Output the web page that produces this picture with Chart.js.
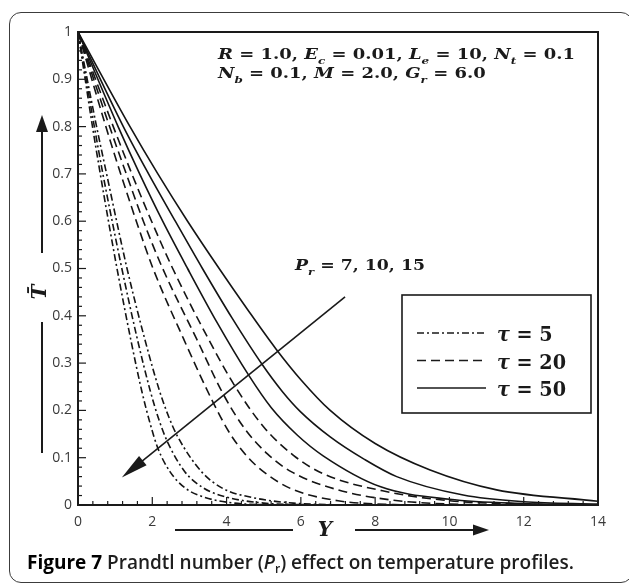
<!DOCTYPE html>
<html><head><meta charset="utf-8">
<script src="https://cdn.jsdelivr.net/npm/chart.js@4.4.1/dist/chart.umd.min.js"></script>
<style>
html,body{margin:0;padding:0;background:#fff;overflow:hidden}
#wrap{position:relative;width:629px;height:584px}
#frame{position:absolute;left:9px;top:12px;width:624px;height:571px;box-sizing:border-box;border:1.5px solid #3c3c3c;border-radius:12px}
#c{position:absolute;left:0;top:0}
#cap{position:absolute;left:27px;top:553px;font-family:"Open Sans",sans-serif;font-size:19px;line-height:18px;font-weight:600;color:#1e1e1e;white-space:nowrap}
#cap b{color:#000;font-weight:700}
#cap .sub{font-size:12px;position:relative;top:4px}
</style></head>
<body><div id="wrap"><div id="frame"></div><canvas id="c" width="629" height="584"></canvas>
<div id="cap"><b>Figure 7</b> Prandtl number (<i>P</i><span class="sub">r</span>) effect on temperature profiles.</div></div>
<script>
// ---------------- data ----------------
const tauLabels = ['5', '20', '50'];
const prValues = ['7', '10', '15'];
const X_LABELS = ['0','2','4','6','8','10','12','14'];
const Y_LABELS = ['0','0.1','0.2','0.3','0.4','0.5','0.6','0.7','0.8','0.9','1'];

// tau = 5 (dash-dot)
const t5_pr7_Y  = [0, 0.50, 0.77, 1.04, 1.32, 1.80, 2.20, 2.45, 2.68, 3.33, 3.90, 4.68, 5.8, 7.0, 8.0];
const t5_pr7_T  = [1, 0.80, 0.70, 0.60, 0.50, 0.35, 0.24, 0.185, 0.145, 0.07, 0.035, 0.016, 0.004, 0.0005, 0];
const t5_pr10_Y = [0, 0.44, 0.67, 0.92, 1.18, 1.60, 1.95, 2.18, 2.40, 2.88, 3.40, 4.04, 5.0, 6.2, 7.0];
const t5_pr10_T = [1, 0.80, 0.70, 0.60, 0.50, 0.35, 0.24, 0.18, 0.135, 0.07, 0.035, 0.016, 0.004, 0.0005, 0];
const t5_pr15_Y = [0, 0.39, 0.60, 0.82, 1.05, 1.42, 1.72, 1.95, 2.15, 2.48, 2.90, 3.42, 4.2, 5.2, 6.0];
const t5_pr15_T = [1, 0.80, 0.70, 0.60, 0.50, 0.35, 0.24, 0.17, 0.12, 0.07, 0.035, 0.016, 0.004, 0.0005, 0];

// tau = 20 (dashed)
const t20_pr7_Y  = [0, 0.95, 1.45, 1.98, 2.55, 3.45, 4.22, 5.0, 5.8, 6.6, 8.2, 10.0, 12.0, 14.0];
const t20_pr7_T  = [1, 0.80, 0.70, 0.60, 0.50, 0.36, 0.252, 0.165, 0.105, 0.066, 0.03, 0.009, 0.002, 0];
const t20_pr10_Y = [0, 0.85, 1.30, 1.76, 2.28, 3.20, 3.92, 4.50, 5.10, 5.75, 7.0, 8.5, 10.0, 11.5];
const t20_pr10_T = [1, 0.80, 0.70, 0.60, 0.50, 0.35, 0.233, 0.16, 0.108, 0.07, 0.032, 0.01, 0.002, 0];
const t20_pr15_Y = [0, 0.75, 1.15, 1.57, 2.02, 2.85, 3.65, 4.10, 4.55, 5.0, 5.75, 7.0, 8.5, 9.5];
const t20_pr15_T = [1, 0.80, 0.70, 0.60, 0.50, 0.35, 0.215, 0.15, 0.103, 0.07, 0.034, 0.009, 0.001, 0];

// tau = 50 (solid)
const t50_pr7_Y  = [0, 1.40, 2.15, 2.95, 3.80, 4.55, 5.33, 6.0, 6.79, 8.0, 9.48, 11.27, 14.0];
const t50_pr7_T  = [1, 0.80, 0.70, 0.60, 0.50, 0.415, 0.33, 0.265, 0.20, 0.13, 0.074, 0.032, 0.008];
const t50_pr10_Y = [0, 1.22, 1.90, 2.62, 3.35, 4.15, 4.95, 5.50, 5.98, 6.79, 7.70, 8.58, 10.37, 12.0, 14.0];
const t50_pr10_T = [1, 0.80, 0.70, 0.60, 0.50, 0.395, 0.298, 0.24, 0.198, 0.144, 0.097, 0.06, 0.021, 0.007, 0.002];
const t50_pr15_Y = [0, 1.08, 1.66, 2.28, 2.95, 3.75, 4.59, 5.21, 5.90, 6.60, 8.13, 10.0, 12.0, 14.0];
const t50_pr15_T = [1, 0.80, 0.70, 0.60, 0.50, 0.385, 0.275, 0.205, 0.148, 0.104, 0.039, 0.012, 0.003, 0.0005];

// Pr arrow (data coordinates: tail -> tip)
const prArrowTail = [7.19, 0.44];
const prArrowTip  = [1.18, 0.058];

// ---------------- build ----------------
const pts = (X, T) => X.map((x, i) => ({x, y: T[i]}));
const styles = [
  {dash: [7, 3, 2, 3]},
  {dash: [9, 5]},
  {dash: []}
];
const curveSets = [
  [[t5_pr7_Y, t5_pr7_T], [t5_pr10_Y, t5_pr10_T], [t5_pr15_Y, t5_pr15_T]],
  [[t20_pr7_Y, t20_pr7_T], [t20_pr10_Y, t20_pr10_T], [t20_pr15_Y, t20_pr15_T]],
  [[t50_pr7_Y, t50_pr7_T], [t50_pr10_Y, t50_pr10_T], [t50_pr15_Y, t50_pr15_T]]
];
const datasets = [];
curveSets.forEach((set, g) => set.forEach((c, k) => datasets.push({
  label: 'τ = ' + tauLabels[g] + ', Pr = ' + prValues[k],
  data: pts(c[0], c[1]),
  borderColor: '#141414', borderWidth: 1.6, borderDash: styles[g].dash,
  pointRadius: 0, cubicInterpolationMode: 'monotone', fill: false
})));

const SERIF = '"DejaVu Serif", "Liberation Serif", serif';
function fontFor(r, size) {
  const it = r[1].includes('i'), sub = r[1].includes('s');
  return (it ? 'italic ' : '') + 'bold ' + (sub ? Math.round(size * 0.68) : size) + 'px ' + SERIF;
}
function richWidth(ctx, runs, size) {
  let w = 0; for (const r of runs) { ctx.font = fontFor(r, size); w += ctx.measureText(r[0]).width; } return w;
}
function drawRich(ctx, runs, x, y, size, sx) {
  ctx.save(); ctx.translate(x, y); ctx.scale(sx, 1);
  let cx = 0;
  for (const r of runs) {
    ctx.font = fontFor(r, size);
    const dy = r[1].includes('s') ? size * 0.3 : 0;
    ctx.fillText(r[0], cx, dy); cx += ctx.measureText(r[0]).width;
  }
  ctx.restore();
}
const line1 = [['R','i'],[' = ',''],['1.0, ',''],['E','i'],['c','is'],[' = ',''],['0.01, ',''],['L','i'],['e','is'],[' = ',''],['10, ',''],['N','i'],['t','is'],[' = ',''],['0.1','']];
const line2 = [['N','i'],['b','is'],[' = ',''],['0.1, ',''],['M','i'],[' = ',''],['2.0, ',''],['G','i'],['r','is'],[' = ',''],['6.0','']];
const prLine = [['P','i'],['r','is'],[' = ',''],[prValues.join(', '),'']];

function seg(ctx, x1, y1, x2, y2) { ctx.beginPath(); ctx.moveTo(x1, y1); ctx.lineTo(x2, y2); ctx.stroke(); }
function arrowHead(ctx, tx, ty, ux, uy, len, hw) {
  ctx.beginPath();
  ctx.moveTo(tx, ty);
  ctx.lineTo(tx - ux * len - uy * hw, ty - uy * len + ux * hw);
  ctx.lineTo(tx - ux * len + uy * hw, ty - uy * len - ux * hw);
  ctx.closePath(); ctx.fill();
}

const deco = {
  id: 'deco',
  afterDraw(chart) {
    const {ctx, chartArea: a, scales: {x, y}} = chart;
    ctx.save();
    ctx.strokeStyle = '#1a1a1a'; ctx.fillStyle = '#1a1a1a'; ctx.setLineDash([]);
    // frame
    ctx.lineWidth = 2;
    ctx.strokeRect(a.left, a.top, a.right - a.left, a.bottom - a.top);
    // inward ticks
    ctx.lineWidth = 1.2;
    for (let k = 0; k <= 50; k++) {
      const py = y.getPixelForValue(k * 0.02);
      seg(ctx, a.left, py, a.left + (k % 5 === 0 ? 8 : 4), py);
    }
    for (let k = 0; k <= 35; k++) {
      const px = x.getPixelForValue(k * 0.4);
      seg(ctx, px, a.bottom, px, a.bottom - (k % 5 === 0 ? 8 : 4));
    }
    // Pr arrow
    const x1 = x.getPixelForValue(prArrowTail[0]), y1 = y.getPixelForValue(prArrowTail[1]);
    const x2 = x.getPixelForValue(prArrowTip[0]), y2 = y.getPixelForValue(prArrowTip[1]);
    const L = Math.hypot(x2 - x1, y2 - y1), ux = (x2 - x1) / L, uy = (y2 - y1) / L;
    ctx.lineWidth = 1.6;
    seg(ctx, x1, y1, x2 - ux * 15, y2 - uy * 15);
    arrowHead(ctx, x2, y2, ux, uy, 27, 6);

    // legend box
    const lx = a.left + 324, ly = a.top + 263, lw = 189, lh = 118;
    ctx.lineWidth = 1.6;
    ctx.strokeRect(lx, ly, lw, lh);
    const legRuns = tauLabels.map(t => [['τ','i'],[' = ',''],[t,'']]);
    const lsize = 20;
    const lsx = 69 / Math.max(...legRuns.map(r => richWidth(ctx, r, lsize)));
    legRuns.forEach((runs, g) => {
      const yy = ly + 38 + g * 27.5;
      ctx.setLineDash(styles[g].dash); ctx.lineWidth = 1.6;
      seg(ctx, lx + 15, yy, lx + 84, yy);
      ctx.setLineDash([]);
      drawRich(ctx, runs, lx + 95, yy + 8, lsize, lsx);
    });

    // parameter annotation
    const size = 15;
    const s1 = 357 / richWidth(ctx, line1, size);
    drawRich(ctx, line1, 218, 59, size, s1);
    drawRich(ctx, line2, 218, 78, size, s1);
    drawRich(ctx, prLine, 295, 270, size, 130 / richWidth(ctx, prLine, size));

    // axis titles with arrows
    ctx.font = 'italic bold 20px ' + SERIF;
    ctx.textAlign = 'center'; ctx.textBaseline = 'middle';
    ctx.fillText('Y', 325, 531);
    ctx.save(); ctx.translate(41, 292); ctx.rotate(-Math.PI / 2);
    ctx.fillText('T\u0304', 0, 0); ctx.restore();
    ctx.lineWidth = 2;
    seg(ctx, 175, 530, 293, 530);
    seg(ctx, 355, 530, 476, 530);
    arrowHead(ctx, 489, 530, 1, 0, 16, 5.5);
    seg(ctx, 42, 453, 42, 322);
    seg(ctx, 42, 253, 42, 128);
    arrowHead(ctx, 42, 115, 0, -1, 17, 6);
    ctx.restore();
  }
};

new Chart(document.getElementById('c'), {
  type: 'line',
  data: {datasets},
  options: {
    responsive: false, devicePixelRatio: 1, animation: false,
    layout: {padding: {left: 0, top: 32, right: 31, bottom: 0}},
    plugins: {legend: {display: false}, tooltip: {enabled: false}},
    scales: {
      x: {
        type: 'linear', min: 0, max: 14,
        grid: {display: false, drawTicks: false}, border: {display: false},
        afterFit: s => { s.height = 79; },
        ticks: {stepSize: 2, padding: 9, color: '#3a3a3a', font: {family: '"Open Sans"', size: 14},
          callback: v => X_LABELS[Math.round(v / 2)]}
      },
      y: {
        type: 'linear', min: 0, max: 1,
        grid: {display: false, drawTicks: false}, border: {display: false},
        afterFit: s => { s.width = 78; },
        ticks: {stepSize: 0.1, padding: 6, color: '#3a3a3a', font: {family: '"Open Sans"', size: 14},
          callback: v => Y_LABELS[Math.round(v * 10)]}
      }
    }
  },
  plugins: [deco]
});
</script></body></html>
